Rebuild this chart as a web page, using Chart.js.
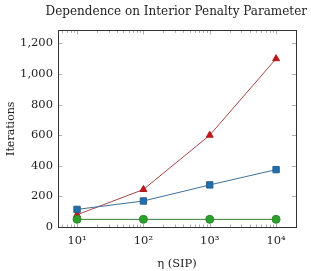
<!DOCTYPE html>
<html lang="en">
<head>
<meta charset="UTF-8" />
<title>Dependence on Interior Penalty Parameter</title>
<script src="https://cdn.jsdelivr.net/npm/chart.js"></script>
<style>
  body { margin: 0; background: #fff; }
  #wrap { width: 311px; height: 271px; }
</style>
</head>
<body>
<div id="wrap"><canvas id="chart"></canvas></div>
<script>
const etaValues = [10, 100, 1000, 10000];
const redIterations = [80, 245, 600, 1100];
const blueIterations = [115, 170, 275, 375];
const greenIterations = [50, 50, 50, 50];
const yTicks = [0, 200, 400, 600, 800, 1000, 1200];

const serif = "'DejaVu Serif', 'Liberation Serif', serif";
const sup = { '1': '\u00b9', '2': '\u00b2', '3': '\u00b3', '4': '\u2074' };

function pts(ys) {
  return etaValues.map((x, i) => ({ x: x, y: ys[i] }));
}

// pgfplots style frame with inward ticks on all four sides
const frame = {
  id: 'frame',
  afterDraw(chart) {
    const { ctx, chartArea: a, scales } = chart;
    ctx.save();
    ctx.strokeStyle = '#999';
    ctx.lineWidth = 0.8;
    ctx.beginPath();
    yTicks.forEach(v => {
      const y = Math.round(scales.y.getPixelForValue(v)) + 0.5;
      if (y < a.top || y > a.bottom) return;
      ctx.moveTo(a.left, y); ctx.lineTo(a.left + 4, y);
      ctx.moveTo(a.right, y); ctx.lineTo(a.right - 4, y);
    });
    for (let e = 0; e <= 4; e++) {
      for (let m = 1; m <= 9; m++) {
        const v = m * Math.pow(10, e);
        const x = Math.round(scales.x.getPixelForValue(v)) + 0.5;
        if (x < a.left || x > a.right) continue;
        const len = m === 1 ? 4 : 2.5;
        ctx.moveTo(x, a.bottom); ctx.lineTo(x, a.bottom - len);
        ctx.moveTo(x, a.top); ctx.lineTo(x, a.top + len);
      }
    }
    ctx.stroke();
    ctx.strokeStyle = '#333';
    ctx.lineWidth = 1;
    ctx.strokeRect(Math.round(a.left) + 0.5, Math.round(a.top) + 0.5,
      Math.round(a.right - a.left), Math.round(a.bottom - a.top));
    ctx.restore();
  }
};

new Chart(document.getElementById('chart'), {
  type: 'line',
  data: {
    datasets: [
      {
        data: pts(greenIterations),
        borderColor: '#3a7a3a', backgroundColor: '#2ca02c',
        pointStyle: 'circle', pointRadius: 4, pointBorderColor: '#2a8a2a',
        borderWidth: 1
      },
      {
        data: pts(blueIterations),
        borderColor: '#3e6f96', backgroundColor: '#1f6fb0',
        pointStyle: 'rect', pointRadius: 4.5, pointBorderColor: '#2a5f8a',
        borderWidth: 1
      },
      {
        data: pts(redIterations),
        borderColor: '#a84444', backgroundColor: '#c8141e',
        pointStyle: 'triangle', pointRadius: 4, pointBorderColor: '#b01818',
        borderWidth: 1
      }
    ]
  },
  options: {
    responsive: true,
    maintainAspectRatio: false,
    animation: false,
    layout: { padding: { left: 0, right: 4, top: 0, bottom: 0 } },
    plugins: {
      legend: { display: false },
      tooltip: { enabled: false },
      title: {
        display: true,
        align: 'end',
        text: 'Dependence on Interior Penalty Parameter',
        color: '#222',
        font: { family: serif, size: 12, weight: 'normal' },
        padding: { top: 5, bottom: 11 }
      }
    },
    scales: {
      x: {
        type: 'logarithmic',
        min: Math.pow(10, 0.713),
        max: Math.pow(10, 4.3),
        grid: { display: false, drawTicks: false },
        border: { display: false },
        afterBuildTicks(scale) {
          scale.ticks = etaValues.map(v => ({ value: v }));
        },
        afterFit(scale) { scale.height = 44; },
        ticks: {
          color: '#222',
          padding: 7,
          maxRotation: 0,
          font: { family: serif, size: 11.5 },
          callback: v => '10' + sup[String(Math.round(Math.log10(v)))]
        },
        title: {
          display: true,
          text: '\u03b7 (SIP)',
          color: '#222',
          font: { family: serif, size: 11.5 },
          padding: { top: 4, bottom: 0 }
        }
      },
      y: {
        min: 0,
        max: 1285,
        grid: { display: false, drawTicks: false },
        border: { display: false },
        afterBuildTicks(scale) {
          scale.ticks = yTicks.map(v => ({ value: v }));
        },
        afterFit(scale) { scale.width = 58; },
        ticks: {
          color: '#222',
          padding: 5,
          font: { family: serif, size: 11.5 },
          callback: v => v.toLocaleString('en-US')
        },
        title: {
          display: true,
          text: 'Iterations',
          color: '#222',
          font: { family: serif, size: 11 },
          padding: { top: 5, bottom: 0 }
        }
      },
      // empty right-hand gutter so the title can run past the plot frame
      yRight: {
        position: 'right',
        min: 0,
        max: 1285,
        grid: { display: false, drawTicks: false },
        border: { display: false },
        ticks: { display: false },
        afterFit(scale) { scale.width = 11; }
      }
    }
  },
  plugins: [frame]
});
</script>
</body>
</html>
